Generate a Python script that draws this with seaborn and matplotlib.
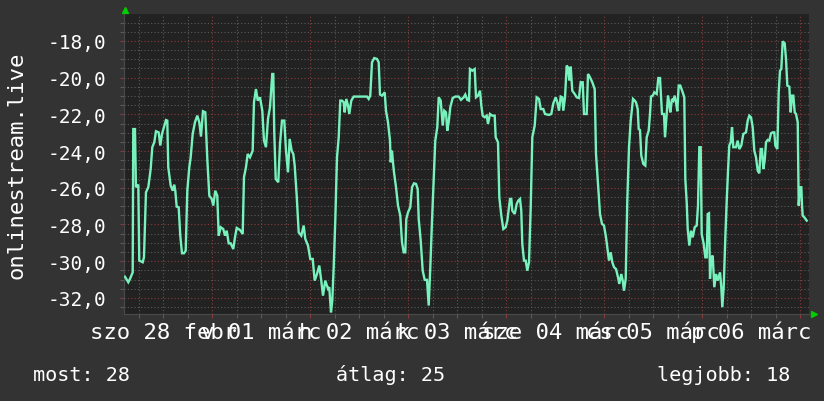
import seaborn as sns
import matplotlib.pyplot as plt
from matplotlib.ticker import MultipleLocator, FuncFormatter

"""
Temperature trace for onlinestream.live over one week (28 febr - 06 marc).
"""
# Hours since 28 febr 00:00 and the measured values
hours = [
    2.62, 3.43, 3.84, 4.51, 4.65, 5.07, 5.31, 5.88, 6.12, 6.96, 7.27, 7.76, 8.33, 8.91,
    9.31, 9.80, 10.21, 10.87, 11.27, 11.68, 12.17, 12.66, 12.98, 13.22, 13.81, 14.30,
    14.69, 14.94, 15.28, 15.77, 16.16, 16.58, 17.07, 17.49, 17.88, 18.37, 18.71, 19.20,
    19.76, 20.33, 20.82, 21.23, 21.72, 22.29, 22.78, 23.27, 23.85, 24.25, 24.73, 25.22,
    25.57, 26.06, 26.69, 27.11, 27.53, 28.02, 28.51, 29.14, 29.56, 29.98, 30.78, 31.45,
    31.76, 32.25, 32.67, 33.23, 33.89, 34.21, 34.70, 35.12, 35.68, 36.25, 36.66, 37.15,
    37.64, 38.13, 38.69, 38.94, 39.18, 39.53, 40.16, 40.58, 41.07, 41.63, 42.05, 42.54,
    42.95, 43.44, 43.84, 44.18, 44.67, 45.16, 45.80, 46.38, 46.78, 47.44, 48.00, 48.59,
    49.08, 49.64, 50.20, 50.69, 51.11, 51.67, 52.34, 52.65, 53.07, 53.39, 53.73, 54.12,
    54.54, 54.96, 55.35, 55.76, 56.18, 56.42, 56.82, 57.23, 57.55, 58.04, 58.63, 59.85,
    61.89, 62.30, 62.69, 63.11, 63.67, 64.33, 64.75, 65.07, 65.56, 66.22, 66.54, 67.03,
    67.52, 67.69, 68.01, 68.25, 68.50, 68.99, 69.48, 70.04, 70.46, 70.87, 71.27, 71.51,
    71.93, 72.49, 72.91, 73.40, 73.89, 74.30, 74.55, 75.04, 75.53, 76.02, 76.58, 77.00,
    77.39, 77.81, 78.22, 78.61, 79.10, 79.45, 79.94, 80.43, 80.82, 81.23, 81.55, 81.89,
    82.29, 82.87, 83.51, 84.34, 84.91, 85.57, 85.96, 86.45, 86.87, 87.11, 87.67, 88.26,
    88.58, 89.07, 89.56, 89.88, 90.22, 90.71, 91.20, 91.52, 92.01, 92.57, 93.16, 93.40,
    93.97, 94.29, 94.78, 95.27, 95.85, 96.25, 96.66, 96.91, 97.23, 97.47, 98.06, 98.55,
    98.94, 99.36, 99.67, 99.92, 100.33, 100.75, 101.14, 101.56, 101.98, 102.37, 102.96,
    103.44, 104.01, 104.43, 105.06, 105.48, 106.46, 107.02, 107.51, 108.10, 108.49,
    108.91, 109.32, 109.72, 109.96, 110.38, 110.79, 111.11, 111.43, 111.77, 112.16,
    112.75, 113.24, 113.80, 114.22, 114.71, 115.03, 115.69, 116.01, 116.50, 117.06,
    117.65, 117.97, 118.46, 118.95, 119.44, 119.93, 120.42, 120.74, 121.15, 121.57,
    121.96, 122.38, 122.87, 123.36, 123.67, 124.16, 124.51, 124.82, 125.24, 125.63,
    126.05, 126.47, 127.03, 127.45, 127.76, 128.18, 128.42, 128.74, 129.06, 129.55,
    130.04, 130.38, 130.87, 131.19, 131.44, 131.86, 132.25, 132.83, 133.23, 133.64,
    134.13, 134.62, 134.87, 135.28, 135.60, 135.92, 136.16, 136.58, 136.90, 137.24,
    137.56, 137.88, 138.22, 138.61, 139.20, 139.59, 139.84, 140.18, 140.43, 140.82,
    141.23, 141.65, 142.14, 142.63, 142.95, 143.27, 143.61, 143.85, 144.34, 144.74,
    145.08, 145.32, 145.64, 145.89, 146.21, 146.55, 146.94, 147.36, 147.77, 148.34,
    148.65, 148.90, 149.24, 149.64, 149.98, 150.30, 150.61, 150.96, 151.28, 151.59,
    152.25, 152.67, 153.06, 153.55, 154.04, 154.70, 155.12, 155.51, 155.93, 156.34,
    156.74, 157.15, 157.57, 157.96, 158.30, 158.62, 158.94, 159.28, 159.60, 160.02,
    160.41, 160.83, 161.24, 161.63, 161.88, 162.37, 162.71, 163.03, 163.35, 163.69,
    164.18, 164.50, 164.82, 165.31, 165.65, 165.97, 166.29, 166.63, 166.95, 167.37,
    167.61, 167.93, 168.25, 168.42, 168.59, 168.98, 169.57,
]
temps = [
    -30.85, -31.15, -30.97, -30.61, -22.80, -22.80, -25.97, -25.83, -29.97, -30.06, -29.79, -26.25, -25.97, -24.98,
    -23.79, -23.52, -22.92, -22.98, -23.70, -23.07, -22.70, -22.31, -22.34, -24.88, -25.88, -26.16,
    -25.83, -26.16, -27.03, -27.06, -28.61, -29.57, -29.57, -29.43, -26.16, -24.88, -24.34, -23.07,
    -22.43, -22.07, -22.43, -23.21, -21.83, -21.89, -24.43, -26.43, -26.61, -26.97, -26.16, -26.43,
    -28.61, -28.15, -28.25, -28.61, -28.34, -29.03, -29.03, -29.34, -28.70, -28.19, -28.30, -28.52,
    -25.43, -24.88, -24.16, -24.34, -23.98, -21.34, -20.62, -21.25, -21.07, -21.80, -23.43, -23.79,
    -22.25, -21.61, -19.80, -19.80, -22.98, -25.52, -25.70, -23.61, -22.34, -22.34, -23.98, -25.16,
    -23.34, -23.98, -24.16, -24.79, -26.43, -28.43, -28.61, -28.06, -28.79, -29.15, -29.88, -29.88,
    -31.06, -30.70, -30.24, -31.06, -31.88, -31.06, -31.51, -31.42, -32.79, -32.15, -30.33, -27.79,
    -24.34, -23.25, -21.25, -21.25, -21.34, -21.89, -21.16, -21.52, -21.98, -21.25, -21.03, -21.03,
    -21.03, -21.16, -20.98, -19.16, -18.93, -18.98, -19.16, -20.92, -20.98, -20.80, -21.80, -22.43,
    -23.43, -24.61, -23.98, -24.61, -25.16, -25.97, -26.97, -27.52, -28.97, -29.52, -29.52, -27.70,
    -27.34, -27.06, -25.97, -25.76, -25.79, -26.07, -27.70, -28.88, -30.52, -31.02, -31.02, -32.42,
    -30.33, -27.79, -25.61, -23.43, -22.70, -21.07, -21.25, -22.61, -21.80, -21.89, -22.89, -22.43,
    -21.61, -21.11, -21.03, -21.03, -21.21, -21.07, -20.92, -21.21, -21.25, -19.53, -19.62, -19.53,
    -21.07, -20.98, -20.71, -21.52, -22.07, -22.16, -22.07, -22.52, -21.98, -22.07, -22.07, -23.25,
    -23.52, -26.52, -27.52, -28.25, -28.15, -27.79, -27.06, -26.61, -26.61, -27.25, -27.43, -26.88,
    -26.70, -26.61, -27.25, -29.06, -29.97, -29.97, -30.52, -30.06, -27.06, -23.25, -22.61,
    -21.07, -21.16, -21.71, -21.71, -21.98, -22.03, -21.98, -21.40, -21.07, -21.34,
    -21.80, -21.03, -21.07, -21.80, -21.07, -19.34, -19.44, -20.16, -19.40, -20.71,
    -20.89, -21.07, -21.11, -20.25, -20.25, -21.98, -21.98, -19.80, -19.98, -20.25,
    -20.62, -24.16, -25.79, -27.43, -27.97, -28.06, -28.70, -29.24, -29.97, -29.52,
    -30.06, -30.33, -30.43, -30.88, -31.24, -30.70, -31.06, -31.61, -30.97, -26.70,
    -23.79, -22.34, -21.16, -21.25, -21.34, -21.71, -22.80, -22.85, -24.25, -24.70,
    -24.79, -23.25, -22.89, -21.98, -21.03, -20.98, -20.80, -20.89, -20.02, -20.02,
    -21.98, -21.98, -23.25, -21.98, -20.98, -21.43, -21.89, -21.16, -21.25, -20.98,
    -21.34, -21.83, -20.43, -20.43, -20.80, -21.07, -25.52, -26.79, -28.25, -29.15,
    -28.34, -28.70, -28.15, -28.06, -26.97, -23.79, -23.79, -28.52, -29.06, -29.79,
    -29.79, -27.43, -27.39, -30.97, -29.79, -29.70, -31.42, -30.70, -31.06, -30.61,
    -31.42, -32.51, -31.42, -28.70, -26.70, -25.07, -23.70, -23.52, -22.70, -23.79,
    -23.79, -23.43, -23.89, -23.70, -23.07, -22.98, -22.34, -22.07, -22.16, -22.70,
    -23.98, -24.34, -25.07, -25.21, -23.89, -23.89, -24.98, -24.52, -23.52, -23.39,
    -23.43, -23.03, -22.98, -22.98, -23.70, -23.89, -20.80, -19.62, -19.53, -18.02,
    -18.13, -18.98, -20.43, -20.49, -21.89, -20.98, -20.98, -21.89, -21.98, -22.43,
    -26.97, -25.97, -25.97, -26.97, -27.52, -27.61, -27.79,
]

# Day labels, each one centred on noon of its day
day_labels = ["szo 28 febr", "v 01 márc", "h 02 márc", "k 03 márc", "sze 04 márc", "cs 05 márc", "p 06 márc"]
day_noon = [12, 36, 60, 84, 108, 132, 156]

# Footer values
summary_names = ["most", "átlag", "legjobb"]
summary_values = [28, 25, 18]

LINE = "#78f2bd"
BG = "#333333"
PLOT_BG = "#222222"
MINOR = "#5a5a5a"
MAJOR = "#8a3a3a"
ARROW = "#00cc00"

plt.rcParams["font.family"] = ["DejaVu Sans Mono", "DejaVu Sans"]

fig = plt.figure(figsize=(8.24, 4.02), dpi=100, facecolor=BG)
ax = fig.add_axes([124 / 824, 87 / 402, 685 / 824, 300 / 402])
ax.set_facecolor(PLOT_BG)

ax = sns.lineplot(x=hours, y=temps, ax=ax, color=LINE, linewidth=1.7, estimator=None, sort=False, zorder=3)
for line in ax.get_lines():
    line.set_solid_joinstyle("miter")

ax.set_xlim(2.38, 170.13)
ax.set_ylim(-32.88, -16.53)

# Grid: minor every 6 h / 0.5 deg, major (red) every day / 2 deg
ax.xaxis.set_major_locator(MultipleLocator(24))
ax.xaxis.set_minor_locator(MultipleLocator(6))
ax.yaxis.set_major_locator(MultipleLocator(2))
ax.yaxis.set_minor_locator(MultipleLocator(0.5))
ax.grid(which="minor", color=MINOR, linestyle=(0, (1, 2)), linewidth=0.8)
ax.grid(which="major", color=MAJOR, linestyle=(0, (1, 2)), linewidth=0.8)
ax.set_axisbelow(True)

ax.tick_params(which="both", direction="out", length=3, color=MINOR, width=0.8)
ax.tick_params(axis="x", which="major", color=MAJOR)
ax.tick_params(axis="y", which="major", color=MAJOR)
ax.tick_params(axis="x", labelbottom=False)
ax.tick_params(axis="y", labelsize=14, labelcolor="white", pad=10)
ax.yaxis.set_major_formatter(FuncFormatter(lambda v, p: "{:.1f}".format(v).replace(".", ",")))

for side in ["top", "right"]:
    ax.spines[side].set_visible(False)
for side in ["left", "bottom"]:
    ax.spines[side].set_color("#4a4a4a")

ax.set_xlabel(None)
ax.set_ylabel("onlinestream.live", fontsize=16, color="white")
ax.yaxis.set_label_coords(-0.143, 0.5)

# Day labels under the axis (they overlap in the original too)
for noon, label in zip(day_noon, day_labels):
    ax.text(noon, -0.08, label, transform=ax.get_xaxis_transform(), ha="center", va="baseline",
            fontsize=16, color="white")

# Green arrow heads at the axis ends
ax.plot([0.001], [1.015], marker="^", markersize=5, color=ARROW, transform=ax.transAxes, clip_on=False)
ax.plot([1.0066], [0.0], marker=">", markersize=5, color=ARROW, transform=ax.transAxes, clip_on=False)

# Footer
footer = ["{}: {}".format(n, v) for n, v in zip(summary_names, summary_values)]
fig.text(33 / 824, 1 - 381 / 402, footer[0], ha="left", va="baseline", fontsize=14.5, color="white")
fig.text(391 / 824, 1 - 381 / 402, footer[1], ha="center", va="baseline", fontsize=14.5, color="white")
fig.text(790 / 824, 1 - 381 / 402, footer[2], ha="right", va="baseline", fontsize=14.5, color="white")

plt.savefig("out.png", dpi=100, facecolor=BG)
plt.close()
